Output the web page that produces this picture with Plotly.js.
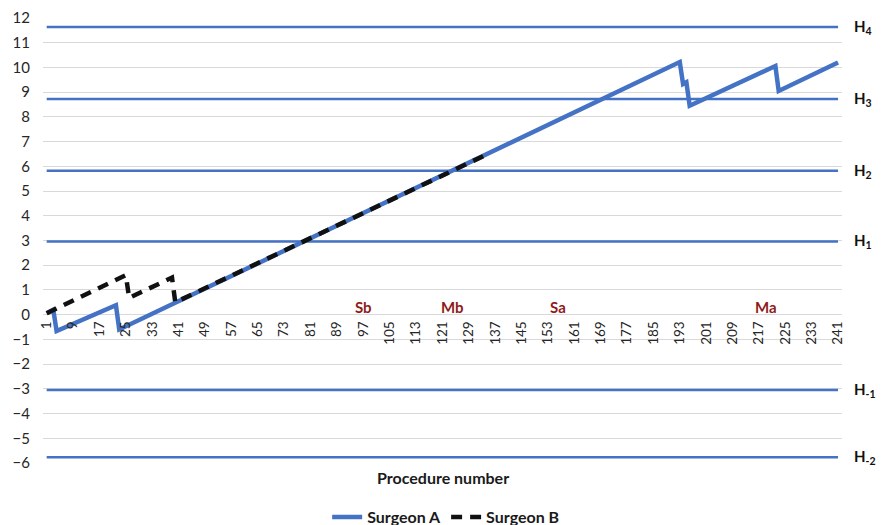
<!DOCTYPE html>
<html>
<head>
<meta charset="utf-8">
<script src="https://cdn.plot.ly/plotly-3.0.1.min.js"></script>
<style>html,body{margin:0;padding:0;background:#fff;}#chart{width:886px;height:525px;}</style>
</head>
<body>
<div id="chart"></div>
<script>
// Surgeon A CUSUM breakpoints (procedure number, value)
const procA  = [1, 3, 4, 22, 23, 193, 194, 195, 196, 222, 223, 241];
const cusumA = [0.06, 0.2, -0.66, 0.38, -0.6, 10.22, 9.33, 9.4, 8.45, 10.06, 9.05, 10.2];
// Surgeon B CUSUM breakpoints
const procB  = [1, 25, 26, 39, 40, 134];
const cusumB = [0.06, 1.6, 0.68, 1.5, 0.5, 6.45];
// Boundary lines
const hNames  = ['H<sub>4</sub>', 'H<sub>3</sub>', 'H<sub>2</sub>', 'H<sub>1</sub>', 'H<sub>-1</sub>', 'H<sub>-2</sub>'];
const hValues = [11.64, 8.72, 5.82, 2.96, -3.05, -5.77];
const hStart = 1, hEnd = 241;
// Phase labels
const phaseNames = ['Sb', 'Mb', 'Sa', 'Ma'];
const phaseX     = [97, 124, 156, 219];
const phaseY     = [0.31, 0.31, 0.31, 0.31];
// Ticks
const xTicks = [];
for (let v = 1; v <= 241; v += 8) xTicks.push(v);
const yTicks = [-6,-5,-4,-3,-2,-1,0,1,2,3,4,5,6,7,8,9,10,11,12];

const FONT = 'Lato, "Open Sans", sans-serif';
const BLUE = '#4472C4';

const traces = [];
hValues.forEach((h, i) => {
  traces.push({x: [hStart, hEnd], y: [h, h], mode: 'lines', type: 'scatter',
    line: {color: BLUE, width: 2.5}, showlegend: false, hoverinfo: 'skip'});
});
traces.push({x: procA, y: cusumA, mode: 'lines', type: 'scatter', name: '<b>Surgeon A</b>',
  line: {color: BLUE, width: 4.5}});
traces.push({x: procB, y: cusumB, mode: 'lines', type: 'scatter', name: '<b>Surgeon B</b>',
  line: {color: '#111111', width: 4.5, dash: '11px,8px'}});

const annotations = [];
hValues.forEach((h, i) => {
  annotations.push({xref: 'paper', yref: 'y', x: 1.012, y: h, xanchor: 'left', yanchor: 'middle',
    text: '<b>' + hNames[i] + '</b>', showarrow: false, font: {family: FONT, size: 15, color: '#111'}});
});
phaseNames.forEach((p, i) => {
  annotations.push({xref: 'x', yref: 'y', x: phaseX[i], y: phaseY[i], xanchor: 'center', yanchor: 'middle',
    text: '<b>' + p + '</b>', showarrow: false, font: {family: FONT, size: 15, color: '#8E1B1B'}});
});
annotations.push({xref: 'paper', yref: 'paper', x: 0.5, y: -0.033, xanchor: 'center', yanchor: 'middle',
  text: '<b>Procedure number</b>', showarrow: false, font: {family: FONT, size: 16, color: '#1a1a1a'}});

const layout = {
  width: 886, height: 525,
  margin: {l: 43, r: 44, t: 18, b: 62, autoexpand: false},
  paper_bgcolor: '#fff', plot_bgcolor: '#fff',
  showlegend: true,
  legend: {orientation: 'h', xref: 'container', yref: 'container', x: 0.503, xanchor: 'center',
    y: 0.015, yanchor: 'middle',
    font: {family: FONT, size: 16, color: '#1a1a1a'}, itemwidth: 30},
  xaxis: {type: 'linear', range: [-0.12, 242.2], tickmode: 'array', tickvals: xTicks,
    ticktext: xTicks.map(String), tickangle: -90, showgrid: false, zeroline: false,
    showline: false, ticks: '', anchor: 'free', position: 6/18, automargin: false,
    tickfont: {family: FONT, size: 13.5, color: '#262626'}, ticklabelstandoff: 3},
  yaxis: {range: [-6, 12], tickmode: 'array', tickvals: yTicks, showgrid: true, automargin: false,
    gridcolor: '#d9d9d9', gridwidth: 1, zeroline: true, zerolinecolor: '#d9d9d9', zerolinewidth: 1,
    showline: false, ticks: '', tickfont: {family: FONT, size: 15, color: '#262626'},
    ticklabelstandoff: 12},
  annotations: annotations
};

Plotly.newPlot('chart', traces, layout, {displayModeBar: false, staticPlot: true});
</script>
</body>
</html>
